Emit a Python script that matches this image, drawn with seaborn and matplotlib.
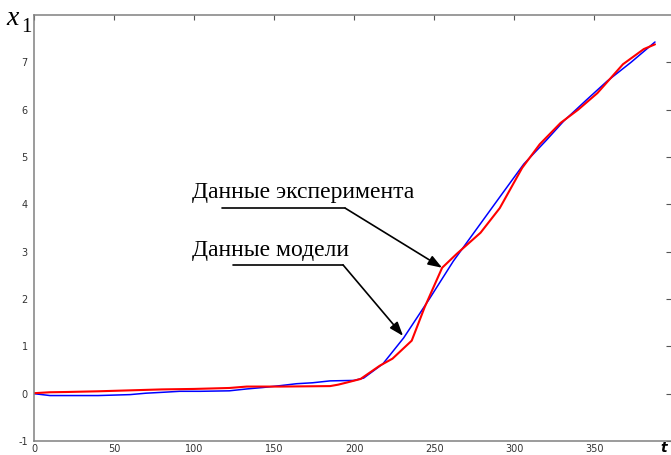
import numpy as np
import pandas as pd
import matplotlib
matplotlib.use("Agg")
import matplotlib.pyplot as plt
import seaborn as sns

# model curve (blue)
t_model = [0, 10, 40, 60, 70, 81, 91, 104, 122, 133, 143, 154, 164, 174, 185, 200, 206,
           218, 231, 247, 262, 277, 292, 306, 320, 331, 345, 358, 373, 388]
x_model = [0.0, -0.04, -0.04, -0.02, 0.01, 0.03, 0.05, 0.05, 0.06, 0.10, 0.13, 0.17, 0.21, 0.23, 0.27, 0.28, 0.33,
           0.63, 1.18, 2.00, 2.80, 3.50, 4.20, 4.85, 5.35, 5.76, 6.20, 6.60, 7.00, 7.43]

# experiment curve (red)
t_exp = [0, 10, 20, 40, 60, 80, 100, 122, 133, 154, 185, 190, 196, 204, 216, 224, 236, 244,
         255, 264, 271, 279, 291, 305, 316, 329, 340, 352, 368, 381, 388]
x_exp = [0.01, 0.03, 0.035, 0.05, 0.07, 0.09, 0.10, 0.12, 0.15, 0.15, 0.16, 0.19, 0.24, 0.31, 0.59, 0.74, 1.12, 1.82,
         2.66, 2.95, 3.16, 3.40, 3.92, 4.77, 5.27, 5.72, 6.00, 6.35, 6.96, 7.28, 7.38]

x_ticks = [0, 50, 100, 150, 200, 250, 300, 350]
y_ticks = [-1, 0, 1, 2, 3, 4, 5, 6, 7]

label_exp = "Данные эксперимента"
label_model = "Данные модели"

sns.set_theme(style="white")
plt.rcParams['font.family'] = ['DejaVu Sans']
plt.rcParams['axes.unicode_minus'] = False

fig = plt.figure(figsize=(6.71, 4.55), dpi=100)
ax = fig.add_axes([34 / 671, 14 / 455, 637 / 671, 426 / 455])

sns.lineplot(x=t_model, y=x_model, color="blue", lw=1.1, sort=False, estimator=None, ax=ax)
sns.lineplot(x=t_exp, y=x_exp, color="red", lw=1.5, sort=False, estimator=None, ax=ax)

ax.set_xlim(0, 398)
ax.set_ylim(-1, 8)
ax.set_xticks(x_ticks)
ax.set_yticks(y_ticks)
ax.tick_params(direction="in", length=3.5, width=0.8, color="#555555",
               labelsize=7, labelcolor="#333333", top=True, right=True)
ax.tick_params(axis="y", pad=4.5)
ax.tick_params(axis="x", pad=2)
for side in ["left", "top", "bottom"]:
    ax.spines[side].set_color("#808080")
    ax.spines[side].set_linewidth(1.1)
ax.spines["right"].set_visible(False)

# annotations: text, underline and arrow
serif = ["Liberation Serif", "DejaVu Serif"]
arrow = dict(arrowstyle="-|>,head_length=0.7,head_width=0.25", color="black", lw=1.2,
             shrinkA=0, shrinkB=0)
ax.text(98.5, 4.13, label_exp, fontsize=17, family=serif, color="black", va="baseline", ha="left")
ax.plot([117.5, 194.4], [3.92, 3.92], color="black", lw=1.2)
ax.annotate("", xy=(255, 2.66), xytext=(194.4, 3.92), arrowprops=arrow)
ax.text(98.5, 2.91, label_model, fontsize=17, family=serif, color="black", va="baseline", ha="left")
ax.plot([124.4, 193.1], [2.72, 2.72], color="black", lw=1.2)
ax.annotate("", xy=(230.6, 1.22), xytext=(193.1, 2.72), arrowprops=arrow)

# axis names: x1 at top-left, t at bottom-right
fig.text(6 / 671, 1 - 25 / 455, "x", fontsize=20, family=serif, fontstyle="italic",
         color="black", va="baseline", ha="left")
fig.text(21 / 671, 1 - 32 / 455, "1", fontsize=15, family=serif,
         color="black", va="baseline", ha="left")
fig.text(660 / 671, 1 - 452 / 455, "t", fontsize=10, fontstyle="italic", fontweight="bold",
         color="black", va="baseline", ha="left")

fig.savefig("out.png", dpi=100)
